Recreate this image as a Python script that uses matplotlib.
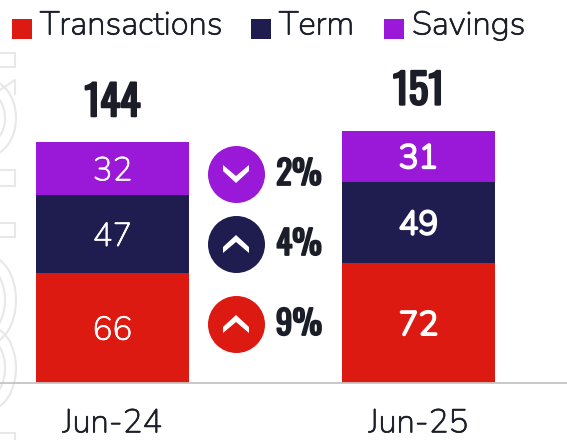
import matplotlib
matplotlib.use('Agg')
import matplotlib.pyplot as plt
import matplotlib.patheffects as pe
from matplotlib.patches import Rectangle, Ellipse

# chart data
periods = ['Jun-24', 'Jun-25']
transactions = [66, 72]
term = [47, 49]
savings = [32, 31]
totals = [144, 151]
series_names = ['Transactions', 'Term', 'Savings']
changes = ['9%', '4%', '2%']
change_up = [True, True, False]

RED = '#dc1a12'
NAVY = '#1f1c50'
PURPLE = '#9a19d8'
INK = '#1b1e28'
GHOST = '#e8e8e8'
colors = [RED, NAVY, PURPLE]

W, H = 567, 440
BODY = ['Nunito', 'Open Sans', 'DejaVu Sans']
HEAVY = ['Oswald', 'Anton', 'Liberation Sans', 'DejaVu Sans']


def ink(width, colour=INK):
    # the installed cut is thin, so thicken it with a stroke
    return [pe.withStroke(linewidth=width, foreground=colour)]


fig = plt.figure(figsize=(W / 100, H / 100), dpi=100, facecolor='white')

# overlay in pixel coordinates for legend, badges
over = fig.add_axes([0, 0, 1, 1])
over.set_xlim(0, W)
over.set_ylim(H, 0)
over.axis('off')

# faint watermark cut off at the left edge
for cy, hh in [(118, 76), (300, 88), (368, 84)]:
    over.add_patch(Ellipse((-12, cy), 56, hh, fc='none', ec=GHOST, lw=1.5))
    over.add_patch(Ellipse((-12, cy), 34, hh - 26, fc='none', ec=GHOST, lw=1.5))
for top, bot in [(53, 67), (170, 186), (223, 237), (433, 450)]:
    over.add_patch(Rectangle((-5, top), 20, bot - top, fc='none', ec=GHOST, lw=1.5))
over.plot([0, 15, 15], [90, 80, 94], color=GHOST, lw=1.5)

ax = fig.add_axes([0, (H - 383) / H, 1, 383 / H])
ax.patch.set_alpha(0)
ax.set_xlim(-112.5 / 306, (W - 112.5) / 306)
ax.set_ylim(0, 383 / 1.66)
for s in ['top', 'left', 'right']:
    ax.spines[s].set_visible(False)
ax.spines['bottom'].set_color('#c4c4c4')
ax.spines['bottom'].set_linewidth(1.3)
ax.set_yticks([])
ax.set_xticks(range(len(periods)))
ax.set_xticklabels(periods, fontsize=23.8, family=BODY, color=INK, path_effects=ink(0.5))
ax.tick_params(axis='x', length=0, pad=19)

x = list(range(len(periods)))
bottoms = [0, 0]
for vals, col in zip([transactions, term, savings], colors):
    bars = ax.bar(x, vals, width=0.5, bottom=bottoms, color=col)
    for i, (b, v) in enumerate(zip(bars, vals)):
        ax.text(b.get_x() + b.get_width() / 2, bottoms[i] + v / 2, str(v), color='white',
                fontsize=23.8, family=BODY, ha='center', va='center_baseline',
                path_effects=ink(1.8 if i == 1 else 0.5, 'white'))
    bottoms = [a + b for a, b in zip(bottoms, vals)]

# totals above the stacks
for i, t in enumerate(totals):
    ax.annotate(str(t), (i, bottoms[i]), xytext=(0, 13), textcoords='offset points', ha='center',
                va='bottom', fontsize=30, family=HEAVY, color=INK, path_effects=ink(1.5))

# legend
leg_x = [12, 251, 384]
for name, col, lx in zip(series_names, colors, leg_x):
    over.add_patch(Rectangle((lx, 19), 20, 20, color=col, lw=0))
    over.text(lx + 28, 26, name, fontsize=23.8, family=BODY, color=INK, va='center',
              path_effects=ink(0.5))

# change badges
badge_y = [324, 244, 174]
for ch, up, col, by in zip(changes, change_up, [RED, NAVY, PURPLE], badge_y):
    over.scatter([236], [by], s=(57 * 0.72) ** 2, color=col, lw=0, zorder=3)
    d = 1 if up else -1
    over.fill([223, 223, 236, 249, 249, 236],
              [by + d * 9, by + d * 3, by - d * 9, by + d * 3, by + d * 9, by - d * 2],
              color='white', lw=0, zorder=4)
    over.text(299, by, ch, fontsize=24, family=HEAVY, color=INK, ha='center', va='center',
              path_effects=ink(1.3))

fig.savefig('out.png', dpi=100)
